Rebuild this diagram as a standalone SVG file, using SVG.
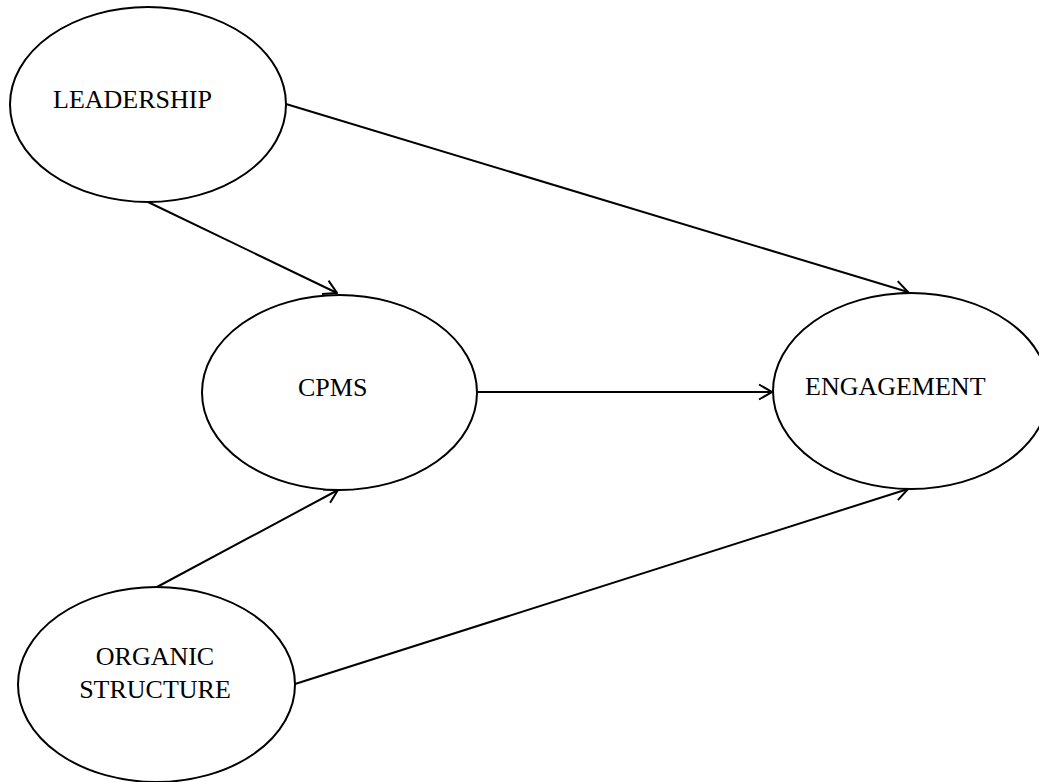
<svg xmlns="http://www.w3.org/2000/svg" width="1039" height="782" viewBox="0 0 1039 782">
  <style>
    .node { fill: #ffffff; stroke: #000000; stroke-width: 2; }
    .label { font-family: "Liberation Serif", "Times New Roman", serif; font-size: 26px; fill: #000000; }
    .edge { fill: none; stroke: #000000; stroke-width: 2; marker-end: url(#arrow); }
  </style>
  <defs>
    <marker id="arrow" markerUnits="userSpaceOnUse" viewBox="0 0 16 18" markerWidth="16" markerHeight="18" refX="14.5" refY="9" orient="auto">
      <path d="M1.5,1.5 L14.5,9 L1.5,16.5" fill="none" stroke="#000000" stroke-width="2" stroke-linejoin="miter"/>
    </marker>
  </defs>

  <rect width="1039" height="782" fill="#ffffff"/>

  <g id="connectors">
    <line class="edge" x1="286" y1="104" x2="908" y2="292"/>
    <line class="edge" x1="148" y1="202" x2="337" y2="293"/>
    <line class="edge" x1="477" y1="392" x2="772" y2="392"/>
    <line class="edge" x1="157" y1="587" x2="338" y2="490"/>
    <line class="edge" x1="295" y1="684" x2="908" y2="489"/>
  </g>

  <g id="leadership">
    <ellipse class="node" cx="148" cy="104.5" rx="138" ry="97.5"/>
    <text class="label" x="53" y="108">LEADERSHIP</text>
  </g>

  <g id="cpms">
    <ellipse class="node" cx="339.5" cy="392.5" rx="137.5" ry="97.5"/>
    <text class="label" x="298" y="396">CPMS</text>
  </g>

  <g id="engagement">
    <ellipse class="node" cx="911" cy="391" rx="138" ry="98"/>
    <text class="label" x="805" y="395">ENGAGEMENT</text>
  </g>

  <g id="organic-structure">
    <ellipse class="node" cx="156.5" cy="684.5" rx="138.5" ry="97.5"/>
    <text class="label" x="155" y="665" text-anchor="middle">ORGANIC</text>
    <text class="label" x="155" y="698" text-anchor="middle">STRUCTURE</text>
  </g>
</svg>
